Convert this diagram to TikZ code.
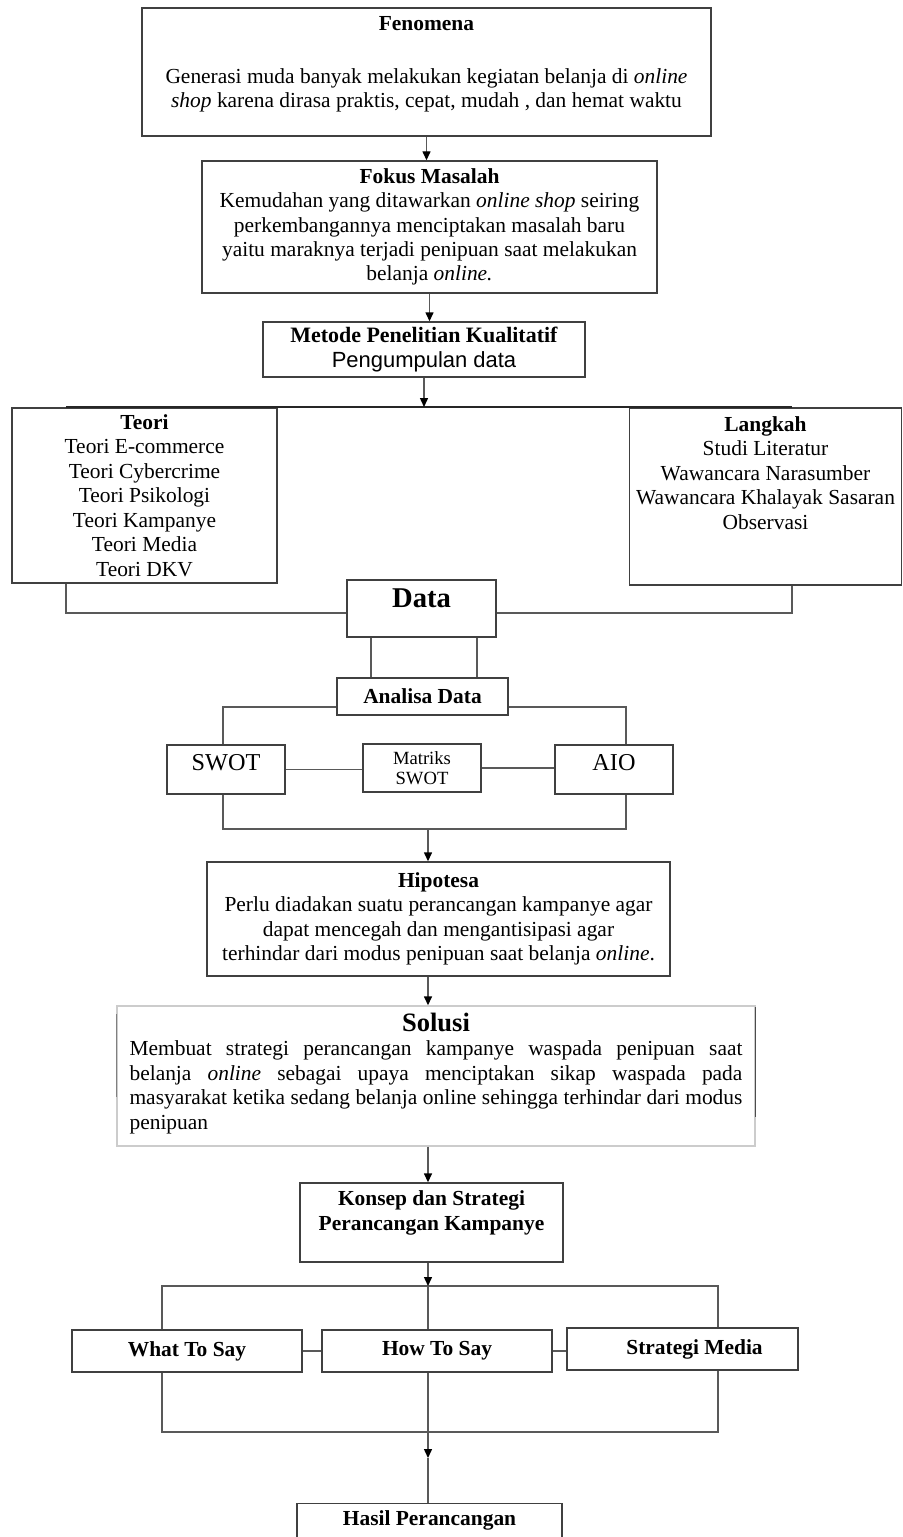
\documentclass[tikz,border=0pt]{standalone}
\usepackage{fontspec}
\setmainfont{Liberation Serif}
\setsansfont{Liberation Sans}
\usetikzlibrary{arrows.meta,calc}
\newcommand\turun[1]{\rule[-#1]{0pt}{0pt}}
\begin{document}
\begin{tikzpicture}[x=.02cm,y=-.02cm,
 font=\fontsize{12.2}{13.9}\selectfont,
 garis/.style={draw=black!65,line width=.8pt},
 kotak/.style={draw=black!75,line width=.8pt,fill=white,align=center,inner sep=2pt},
 ukuran/.style 2 args={minimum width=#1*.02cm,minimum height=#2*.02cm},
 panah/.style={garis,-{Triangle[length=1.8mm,width=1.6mm,color=black]}}]
 \useasboundingbox (0,0) rectangle (902,1537);
 \clip (0,0) rectangle (902,1537);
 \path
 (426.5,72) node[kotak,ukuran={569}{128}] (fen) {\textbf{Fenomena}\\[.56cm]
 Generasi muda banyak melakukan kegiatan belanja di \textit{online}\\
 \textit{shop} karena dirasa praktis, cepat, mudah , dan hemat waktu\turun{.4cm}} % <<< kotak 1
 (429.5,227) node[kotak,ukuran={455}{132}] (fok) {\textbf{Fokus Masalah}\\
 Kemudahan yang ditawarkan \textit{online shop} seiring\\
 perkembangannya menciptakan masalah baru\\
 yaitu maraknya terjadi penipuan saat melakukan\\
 belanja \textit{online.}}
 (424,349.5) node[kotak,ukuran={322}{55},font=\fontsize{12.5}{14}\selectfont] (met)
 {\textbf{Metode Penelitian Kualitatif}\\ {\sffamily Pengumpulan data}}
 (144.5,495.5) node[kotak,ukuran={265}{175}] (teo) {\textbf{Teori}\\ Teori E-commerce\\
 Teori Cybercrime\\ Teori Psikologi\\ Teori Kampanye\\ Teori Media\\ Teori DKV} % <<< baris 2
 (765.5,496.5) node[kotak,ukuran={272}{177}] (lan) {\textbf{Langkah}\\ Studi Literatur\\
 Wawancara Narasumber\\ Wawancara Khalayak Sasaran\\ Observasi\turun{.95cm}}
 (421.5,608.5) node[kotak,ukuran={149}{57},font=\fontsize{16.3}{18}\selectfont\bfseries] (dat) {Data\turun{.42cm}}
 (422.5,696.5) node[kotak,ukuran={171}{37}] (ana) {\textbf{Analisa Data}} % <<< baris 3
 (226,769.5) node[kotak,ukuran={118}{49},font=\fontsize{13.8}{15}\selectfont] (swo) {SWOT\turun{.3cm}}
 (422,768) node[kotak,ukuran={118}{48},font=\fontsize{10.6}{11.4}\selectfont] (mat) {Matriks\\ SWOT}
 (614,769.5) node[kotak,ukuran={118}{49},font=\fontsize{13.8}{15}\selectfont] (aio) {AIO\turun{.3cm}}
 (438.5,919) node[kotak,ukuran={463}{114}] (hip) {\textbf{Hipotesa}\\
 Perlu diadakan suatu perancangan kampanye agar\\
 dapat mencegah dan mengantisipasi agar\\
 terhindar dari modus penipuan saat belanja \textit{online}.}
 (436,1076) node[kotak,draw=black!20,ukuran={638}{140},text width=12.26cm,align=justify] (sol)
 {\hyphenpenalty=10000\makebox[\linewidth]{\fontsize{15.1}{16}\selectfont\bfseries Solusi}\\
 Membuat strategi perancangan kampanye waspada penipuan saat\linebreak
 belanja \textit{online} sebagai upaya menciptakan sikap waspada pada\linebreak
 masyarakat ketika sedang belanja online sehingga terhindar dari modus\linebreak
 penipuan\turun{.2cm}}
 (431.5,1222.5) node[kotak,ukuran={263}{79}] (kon) {\textbf{Konsep dan Strategi}\\
 \textbf{Perancangan Kampanye}\turun{.48cm}} % <<< baris 4
 (187,1351) node[kotak,ukuran={230}{42}] (wha) {\textbf{What To Say}}
 (437,1351) node[kotak,ukuran={230}{42}] (how) {\textbf{How To Say}}
 (682.5,1349) node[kotak,ukuran={231}{42}] (stm) {\hspace{.48cm}\textbf{Strategi Media}}
 (429.5,1503) node[kotak,anchor=north,minimum width=265*.02cm,inner ysep=.14cm] (has)
 {\textbf{Hasil Perancangan}\turun{1.5cm}};
 \path
 (66,407) coordinate (bkiri) (792,407) coordinate (bkanan)
 (66,613) coordinate (dkiri) (792,613) coordinate (dkanan)
 (371,0) coordinate (g1) (477,0) coordinate (g2)
 (223,707) coordinate (akiri) (626,707) coordinate (akanan)
 (223,829) coordinate (skiri) (626,829) coordinate (skanan) (428,829) coordinate (stengah)
 (162,1286) coordinate (kkiri) (718,1286) coordinate (kkanan) (428,1286) coordinate (ktengah)
 (162,1432) coordinate (hkiri) (718,1432) coordinate (hkanan) (428,1458) coordinate (htengah);
 % garis penghubung
 \draw[garis,draw=black!85,line width=1.1pt] (bkiri)--(bkanan);
 \begin{scope}[garis]
 \draw (dkiri |- teo.south)--(dkiri)--(dkiri -| dat.west);
 \draw (dkanan |- lan.south)--(dkanan)--(dkanan -| dat.east);
 \draw (g1 |- dat.south)--(g1 |- ana.north);
 \draw (g2 |- dat.south)--(g2 |- ana.north);
 \draw (ana.west |- akiri)--(akiri)--(akiri |- swo.north);
 \draw (ana.east |- akanan)--(akanan)--(akanan |- aio.north);
 \draw (swo.east)--(swo.east -| mat.west);
 \draw (mat.east)--(mat.east -| aio.west);
 \draw (skiri |- swo.south)--(skiri)--(skanan)--(skanan |- aio.south);
 \draw (kkiri |- wha.north)--(kkiri)--(kkanan)--(kkanan |- stm.north);
 \draw (ktengah)--(ktengah |- how.north);
 \draw (wha.east)--(how.west);
 \draw (how.east)--(how.east -| stm.west);
 \draw (hkiri |- wha.south)--(hkiri)--(hkanan)--(hkanan |- stm.south);
 \draw (htengah)--(htengah |- has.north);
 \draw[draw=black!70] ($(sol.north east)+(0,2)$)--($(sol.north east)+(0,112)$);
 \draw[draw=black!50] ($(sol.north west)+(0,9)$)--($(sol.north west)+(0,92)$);
 \end{scope}
 \begin{scope}[panah]
 \draw (fen.south)--(fen.south |- fok.north);
 \draw (fok.south)--(fok.south |- met.north);
 \draw (met.south)--(met.south |- bkiri);
 \draw (stengah)--(stengah |- hip.north);
 \draw (stengah |- hip.south)--(stengah |- sol.north);
 \draw (stengah |- sol.south)--(stengah |- kon.north);
 \draw (ktengah |- kon.south)--(ktengah);
 \draw (ktengah |- how.south)--(htengah);
 \end{scope}
\end{tikzpicture}
\end{document}
